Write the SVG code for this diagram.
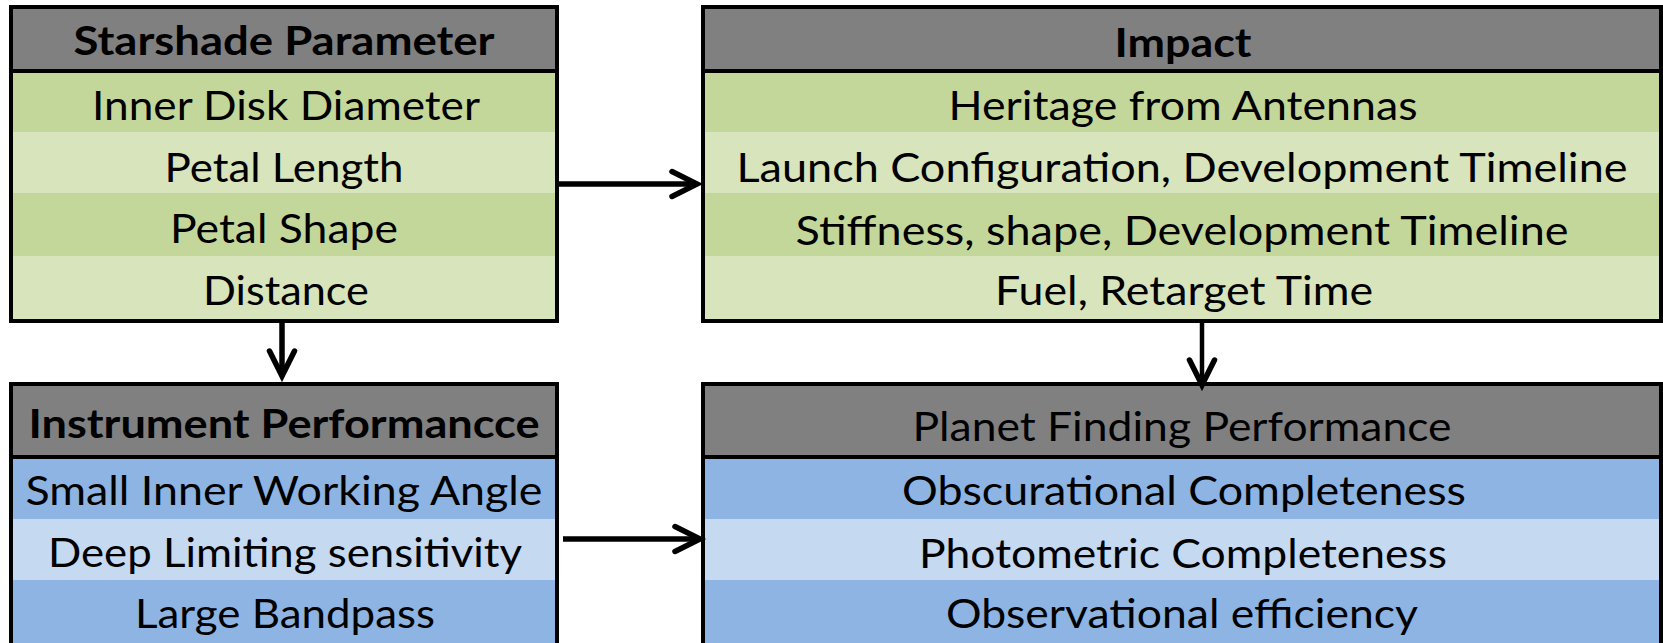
<svg xmlns="http://www.w3.org/2000/svg" width="1663" height="643" viewBox="0 0 1663 643">
<defs>
<style>
.hdr{fill:#808080}
.g1{fill:#C4D79B}
.g2{fill:#D8E4BC}
.b1{fill:#8DB4E2}
.b2{fill:#C5D9F1}
.frame{fill:none;stroke:#000;stroke-width:4}
.sep{stroke:#000;stroke-width:4}
text{font-family:Lato,"Open Sans","Liberation Sans",sans-serif;font-size:41px;fill:#000;text-anchor:middle}
.bold{font-weight:bold}
.conn{fill:none;stroke:#000;stroke-width:5.5}
</style>
<marker id="ah" viewBox="-30 -16 34 32" markerWidth="34" markerHeight="32" refX="0" refY="0" orient="auto" markerUnits="userSpaceOnUse" overflow="visible">
<path d="M -25 -12.5 L 0 0 L -25 12.5" fill="none" stroke="#000" stroke-width="5.5" stroke-linecap="round" stroke-linejoin="miter"/>
</marker>
</defs>
<rect width="1663" height="643" fill="#fff"/>

<g id="starshade-parameter">
<rect class="hdr" x="11" y="7" width="546" height="64"/>
<rect class="g1" x="11" y="71" width="546" height="61"/>
<rect class="g2" x="11" y="132" width="546" height="61"/>
<rect class="g1" x="11" y="193" width="546" height="63"/>
<rect class="g2" x="11" y="256" width="546" height="65"/>
<line class="sep" x1="11" y1="71" x2="557" y2="71"/>
<rect class="frame" x="11" y="7" width="546" height="314"/>
<text class="bold" x="284" y="55" textLength="421" lengthAdjust="spacingAndGlyphs">Starshade Parameter</text>
<text x="286" y="120" textLength="388" lengthAdjust="spacingAndGlyphs">Inner Disk Diameter</text>
<text x="284" y="182" textLength="239" lengthAdjust="spacingAndGlyphs">Petal Length</text>
<text x="284" y="243" textLength="228" lengthAdjust="spacingAndGlyphs">Petal Shape</text>
<text x="286" y="305" textLength="166" lengthAdjust="spacingAndGlyphs">Distance</text>
</g>

<g id="impact">
<rect class="hdr" x="703" y="7" width="958" height="64"/>
<rect class="g1" x="703" y="71" width="958" height="61"/>
<rect class="g2" x="703" y="132" width="958" height="61"/>
<rect class="g1" x="703" y="193" width="958" height="63"/>
<rect class="g2" x="703" y="256" width="958" height="65"/>
<line class="sep" x1="703" y1="71" x2="1661" y2="71"/>
<rect class="frame" x="703" y="7" width="958" height="314"/>
<text class="bold" x="1183" y="57" textLength="137" lengthAdjust="spacingAndGlyphs">Impact</text>
<text x="1183" y="120" textLength="469" lengthAdjust="spacingAndGlyphs">Heritage from Antennas</text>
<text x="1182" y="182" textLength="891" lengthAdjust="spacingAndGlyphs">Launch Configuration, Development Timeline</text>
<text x="1182" y="245" textLength="773" lengthAdjust="spacingAndGlyphs">Stiffness, shape, Development Timeline</text>
<text x="1184" y="305" textLength="378" lengthAdjust="spacingAndGlyphs">Fuel, Retarget Time</text>
</g>

<g id="instrument-performance">
<rect class="hdr" x="11" y="384" width="546" height="73"/>
<rect class="b1" x="11" y="457" width="546" height="62"/>
<rect class="b2" x="11" y="519" width="546" height="61"/>
<rect class="b1" x="11" y="580" width="546" height="70"/>
<line class="sep" x1="11" y1="457" x2="557" y2="457"/>
<path class="frame" d="M 11 650 L 11 384 L 557 384 L 557 650"/>
<text class="bold" x="284" y="438" textLength="511" lengthAdjust="spacingAndGlyphs">Instrument Performancce</text>
<text x="284" y="505" textLength="517" lengthAdjust="spacingAndGlyphs">Small Inner Working Angle</text>
<text x="285" y="567" textLength="474" lengthAdjust="spacingAndGlyphs">Deep Limiting sensitivity</text>
<text x="285" y="628" textLength="300" lengthAdjust="spacingAndGlyphs">Large Bandpass</text>
</g>

<g id="planet-finding-performance">
<rect class="hdr" x="703" y="384" width="958" height="73"/>
<rect class="b1" x="703" y="457" width="958" height="62"/>
<rect class="b2" x="703" y="519" width="958" height="61"/>
<rect class="b1" x="703" y="580" width="958" height="70"/>
<line class="sep" x1="703" y1="457" x2="1661" y2="457"/>
<path class="frame" d="M 703 650 L 703 384 L 1661 384 L 1661 650"/>
<text x="1182" y="441" textLength="539" lengthAdjust="spacingAndGlyphs">Planet Finding Performance</text>
<text x="1184" y="505" textLength="564" lengthAdjust="spacingAndGlyphs">Obscurational Completeness</text>
<text x="1183" y="568" textLength="528" lengthAdjust="spacingAndGlyphs">Photometric Completeness</text>
<text x="1182" y="628" textLength="472" lengthAdjust="spacingAndGlyphs">Observational efficiency</text>
</g>

<g id="connectors">
<path class="conn" d="M 559 184 L 697 184" marker-end="url(#ah)"/>
<path class="conn" d="M 563 539 L 700 539" marker-end="url(#ah)"/>
<path class="conn" d="M 282 323 L 282 376" marker-end="url(#ah)"/>
<path class="conn" style="stroke-width:4.5" d="M 1202 323 L 1202 385" marker-end="url(#ah)"/>
</g>
</svg>
